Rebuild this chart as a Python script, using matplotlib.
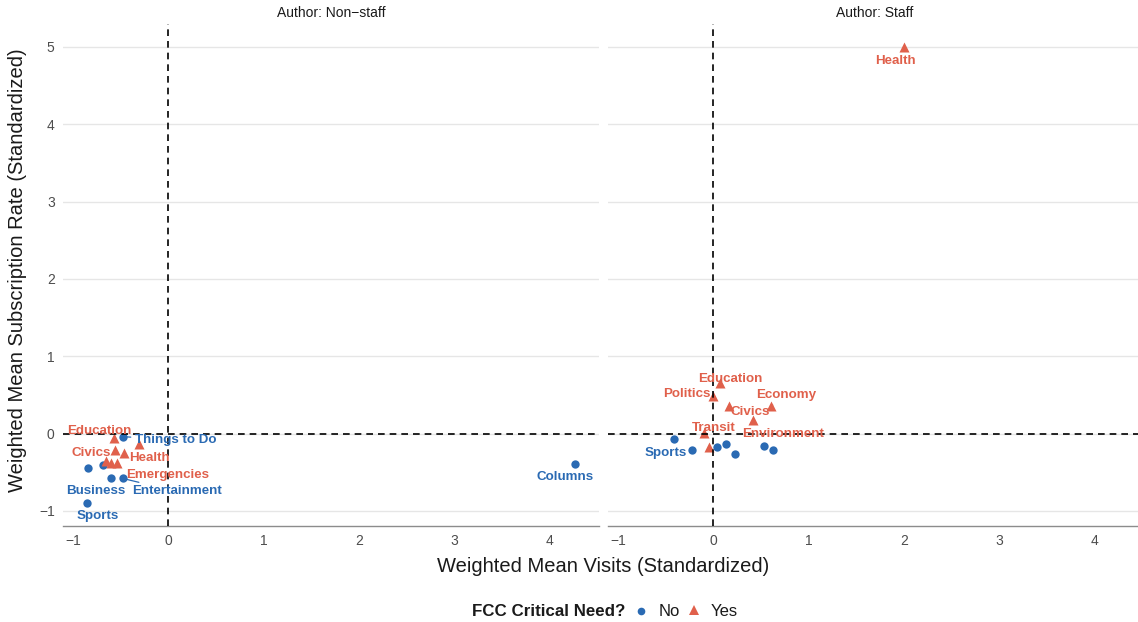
import matplotlib
matplotlib.use("Agg")
import matplotlib.pyplot as plt
from matplotlib.lines import Line2D

plt.rcParams["font.family"] = ["Liberation Sans", "DejaVu Sans"]

RED = "#E0604B"
BLUE = "#2A6AB3"

# ---- data -------------------------------------------------------------
# Non-staff authors
ns_no_x = [-0.48, -0.84, -0.69, -0.60, -0.48, -0.85, 4.26]
ns_no_y = [-0.04, -0.44, -0.40, -0.58, -0.58, -0.90, -0.39]
ns_no_lab = ["Things to Do", "", "", "Business", "Entertainment", "Sports", "Columns"]

ns_yes_x = [-0.57, -0.56, -0.47, -0.31, -0.65, -0.60, -0.54]
ns_yes_y = [-0.06, -0.21, -0.25, -0.13, -0.36, -0.38, -0.38]
ns_yes_lab = ["Education", "Civics", "", "Health", "", "", "Emergencies"]

# Staff authors
st_no_x = [-0.41, -0.22, 0.04, 0.13, 0.23, 0.53, 0.62]
st_no_y = [-0.07, -0.21, -0.18, -0.13, -0.26, -0.16, -0.21]
st_no_lab = ["", "Sports", "", "", "", "", ""]

st_yes_x = [2.00, 0.07, 0.00, 0.16, 0.60, 0.42, -0.10, -0.05]
st_yes_y = [5.00, 0.66, 0.48, 0.35, 0.35, 0.18, 0.01, -0.17]
st_yes_lab = ["Health", "Education", "Politics", "Civics", "Economy",
              "Environment", "Transit", ""]

panel_titles = ["Author: Non\u2212staff", "Author: Staff"]
x_ticks = [-1, 0, 1, 2, 3, 4]
y_ticks = [-1, 0, 1, 2, 3, 4, 5]
legend_labels = ["No", "Yes"]

# label placement (offset of label centre from its point, in pixels)
label_offsets = {
    ("ns", "Things to Do"): (53, -3, True),
    ("ns", "Business"): (-15, -13, False),
    ("ns", "Entertainment"): (54, -13, True),
    ("ns", "Sports"): (10, -13, False),
    ("ns", "Columns"): (-10, -13, False),
    ("ns", "Education"): (-15, 7, False),
    ("ns", "Civics"): (-24, -3, False),
    ("ns", "Health"): (11, -14, False),
    ("ns", "Emergencies"): (51, -12, False),
    ("st", "Sports"): (-27, -3, False),
    ("st", "Health"): (-9, -14, False),
    ("st", "Education"): (10, 4, False),
    ("st", "Politics"): (-27, 2, False),
    ("st", "Civics"): (21, -6, False),
    ("st", "Economy"): (16, 11, True),
    ("st", "Environment"): (30, -14, False),
    ("st", "Transit"): (10, 5, False),
}

# ---- figure -----------------------------------------------------------
W, H = 1138, 622
fig = plt.figure(figsize=(W / 100, H / 100), dpi=100)

XLIM = (-1.106, 4.516)
YLIM = (-1.195, 5.295)


def px_axes(left, top, right, bottom):
    return fig.add_axes([left / W, 1 - bottom / H, (right - left) / W, (bottom - top) / H])


def fx(px):
    return px / W


def fy(py):
    return 1 - py / H


ax_ns = px_axes(63, 24, 599, 526)
ax_st = px_axes(608, 24, 1144, 526)

panels = [
    (ax_ns, "ns", ns_no_x, ns_no_y, ns_no_lab, ns_yes_x, ns_yes_y, ns_yes_lab),
    (ax_st, "st", st_no_x, st_no_y, st_no_lab, st_yes_x, st_yes_y, st_yes_lab),
]

for i, (ax, key, nx, ny, nl, yx, yy, yl) in enumerate(panels):
    ax.set_xlim(*XLIM)
    ax.set_ylim(*YLIM)
    for sp in ["top", "right", "left"]:
        ax.spines[sp].set_visible(False)
    ax.spines["bottom"].set_color("#8C8C8C")
    ax.spines["bottom"].set_linewidth(1.0)
    ax.set_xticks(x_ticks)
    ax.set_xticklabels([str(t).replace("-", "\u2212") for t in x_ticks])
    ax.set_yticks(y_ticks)
    if i == 0:
        ax.set_yticklabels([str(t).replace("-", "\u2212") for t in y_ticks])
    else:
        ax.set_yticklabels([])
    ax.tick_params(length=0, colors="#4D4D4D", labelsize=10, pad=6)
    ax.yaxis.grid(True, color="#E6E6E6", linewidth=1.0)
    ax.xaxis.grid(False)
    ax.set_axisbelow(True)

    ax.scatter(nx, ny, marker="o", s=36, color=BLUE, linewidths=0, zorder=2)
    ax.scatter(yx, yy, marker="^", s=52, color=RED, linewidths=0, zorder=2)

    ax.axvline(0, color="black", linestyle=(0, (4, 3)), linewidth=1.2, zorder=3)
    ax.axhline(0, color="black", linestyle=(0, (4, 3)), linewidth=1.2, zorder=3)

    for xs, ys, labs, col in [(nx, ny, nl, BLUE), (yx, yy, yl, RED)]:
        for x, y, lab in zip(xs, ys, labs):
            if not lab:
                continue
            dx, dy, seg = label_offsets[(key, lab)]
            arrow = dict(arrowstyle="-", color=col, lw=0.9, shrinkA=1, shrinkB=3) if seg else None
            ax.annotate(lab, xy=(x, y), xytext=(dx, dy), textcoords="offset pixels",
                        ha="center", va="center", fontsize=9.6, fontweight="bold",
                        color=col, arrowprops=arrow, zorder=4)

# facet strip titles
fig.text(fx(331), fy(13), panel_titles[0], ha="center", va="center",
         fontsize=10, color="#1A1A1A")
fig.text(fx(875), fy(13), panel_titles[1], ha="center", va="center",
         fontsize=10, color="#1A1A1A")

fig.text(fx(603), fy(566), "Weighted Mean Visits (Standardized)",
         ha="center", va="center", fontsize=14.5, color="#1A1A1A")
fig.text(fx(18), fy(270), "Weighted Mean Subscription Rate (Standardized)",
         ha="center", va="center", rotation=90, fontsize=14.5, color="#1A1A1A")

# legend
fig.text(fx(625), fy(612), "FCC Critical Need?", ha="right", va="center",
         fontsize=12.2, fontweight="bold", color="#1A1A1A")
fig.add_artist(Line2D([fx(641)], [fy(611)], marker="o", linestyle="none", color=BLUE,
                      markersize=5.5, markeredgewidth=0, transform=fig.transFigure))
fig.text(fx(659), fy(612), legend_labels[0], ha="left", va="center",
         fontsize=12, color="#1A1A1A")
fig.add_artist(Line2D([fx(694)], [fy(610)], marker="^", linestyle="none", color=RED,
                      markersize=7, markeredgewidth=0, transform=fig.transFigure))
fig.text(fx(711), fy(612), legend_labels[1], ha="left", va="center",
         fontsize=12, color="#1A1A1A")

fig.savefig("out.png", dpi=100, facecolor="white")
